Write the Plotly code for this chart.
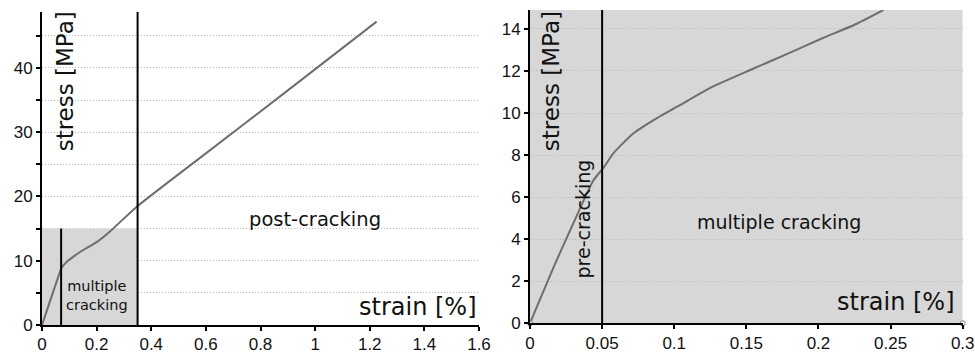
import plotly.graph_objects as go

# ---- data ----
strain_left = [0, 0.012, 0.03, 0.05, 0.062, 0.072, 0.09, 0.12, 0.16, 0.2, 0.25, 0.347, 0.6, 0.9, 1.225]
stress_left = [0, 1.5, 3.8, 6.3, 7.8, 8.9, 9.8, 10.8, 11.9, 12.9, 14.6, 18.4, 26.7, 36.5, 47.2]

strain_right = [0, 0.0185, 0.031, 0.044, 0.051, 0.058, 0.072, 0.088, 0.102, 0.125, 0.153, 0.178, 0.203, 0.225, 0.245]
stress_right = [0, 3.0, 4.9, 6.8, 7.4, 8.1, 9.05, 9.76, 10.3, 11.2, 12.06, 12.8, 13.57, 14.2, 14.9]

left_bounds = [0.07, 0.35]      # boundaries of regions (left chart)
left_region_top = 15            # top of shaded multiple-cracking zone
right_bound = 0.05              # pre-cracking boundary (right chart)

left_xrange = [0, 1.6]
left_yrange = [0, 48.7]
right_xrange = [0, 0.3]
right_yrange = [0, 14.9]

left_yticks = [0, 10, 20, 30, 40]
right_yticks = [0, 2, 4, 6, 8, 10, 12, 14]

CURVE = "#6e6e6e"
SHADE = "#d7d7d7"
GRID = "#b5b5b5"
DOT = "1px,2px"
LABEL_FONT = "DejaVu Sans"
TICK_FONT = dict(family="Liberation Sans", size=17, color="#111")

fig = go.Figure()

fig.add_trace(go.Scatter(x=strain_left, y=stress_left, mode="lines",
                         line=dict(color=CURVE, width=2, shape="spline", smoothing=0.5),
                         xaxis="x", yaxis="y", showlegend=False, hoverinfo="skip"))
fig.add_trace(go.Scatter(x=strain_right, y=stress_right, mode="lines",
                         line=dict(color=CURVE, width=2, shape="spline", smoothing=0.6),
                         xaxis="x2", yaxis="y2", showlegend=False, hoverinfo="skip"))
# small open circles at the ends of the right chart's strain axis
fig.add_trace(go.Scatter(x=right_xrange, y=[right_yrange[0], right_yrange[0]], mode="markers",
                         marker=dict(symbol="circle", size=5, color="white",
                                     line=dict(color="#777", width=1)),
                         xaxis="x2", yaxis="y2", showlegend=False, hoverinfo="skip",
                         cliponaxis=False))

# ---- shapes ----
shapes = []
shapes.append(dict(type="rect", xref="x", yref="y", x0=0, x1=left_bounds[1],
                   y0=0, y1=left_region_top, fillcolor=SHADE, line_width=0, layer="between"))
shapes.append(dict(type="line", xref="x", yref="y", x0=left_bounds[0], x1=left_bounds[0],
                   y0=0, y1=left_region_top, line=dict(color="black", width=2), layer="above"))
shapes.append(dict(type="line", xref="x", yref="y", x0=left_bounds[1], x1=left_bounds[1],
                   y0=0, y1=left_yrange[1], line=dict(color="black", width=2), layer="above"))
shapes.append(dict(type="rect", xref="x2", yref="y2", x0=right_xrange[0], x1=right_xrange[1],
                   y0=right_yrange[0], y1=right_yrange[1], fillcolor=SHADE, line_width=0, layer="below"))
shapes.append(dict(type="line", xref="x2", yref="y2", x0=right_bound, x1=right_bound,
                   y0=0, y1=right_yrange[1], line=dict(color="black", width=2), layer="above"))

annotations = [
    dict(text="stress [MPa]", xref="x", yref="y", x=0.084, y=37.9, textangle=-90,
         showarrow=False, font=dict(family=LABEL_FONT, size=23, color="#111")),
    dict(text="strain [%]", xref="x", yref="y", x=1.6, y=2.8, xanchor="right",
         showarrow=False, font=dict(family=LABEL_FONT, size=24, color="#111")),
    dict(text="post-cracking", xref="x", yref="y", x=1.0, y=16.4,
         showarrow=False, font=dict(family=LABEL_FONT, size=19.5, color="#111")),
    dict(text="multiple<br>cracking", xref="x", yref="y", x=0.2025, y=4.6,
         showarrow=False, font=dict(family=LABEL_FONT, size=14.5, color="#111")),
    dict(text="stress [MPa]", xref="x2", yref="y2", x=0.015, y=11.5, textangle=-90,
         showarrow=False, font=dict(family=LABEL_FONT, size=23, color="#111")),
    dict(text="strain [%]", xref="x2", yref="y2", x=0.296, y=1.03, xanchor="right",
         showarrow=False, font=dict(family=LABEL_FONT, size=24, color="#111")),
    dict(text="pre-cracking", xref="x2", yref="y2", x=0.0365, y=4.97, textangle=-90,
         showarrow=False, font=dict(family=LABEL_FONT, size=19, color="#111")),
    dict(text="multiple cracking", xref="x2", yref="y2", x=0.1726, y=4.84,
         showarrow=False, font=dict(family=LABEL_FONT, size=19, color="#111")),
]

axis_common = dict(showline=True, linecolor="black", linewidth=2, zeroline=False,
                   ticks="outside", ticklen=4, tickwidth=2, tickcolor="black",
                   tickfont=TICK_FONT, automargin=False, fixedrange=True)

W, H = 975, 353
fig.update_layout(
    width=W, height=H,
    margin=dict(l=0, r=0, t=0, b=0),
    paper_bgcolor="white", plot_bgcolor="rgba(0,0,0,0)",
    showlegend=False,
    shapes=shapes, annotations=annotations,
    xaxis=dict(axis_common, domain=[42 / W, 479 / W], range=left_xrange, dtick=0.2,
               showgrid=False, anchor="y", ticklabelstandoff=-1),
    yaxis=dict(axis_common, domain=[(H - 325) / H, (H - 12) / H], range=left_yrange,
               tickvals=left_yticks, showgrid=True, gridcolor=GRID, griddash=DOT, gridwidth=1,
               minor=dict(dtick=5, ticks="outside", ticklen=4, tickwidth=2, tickcolor="black",
                          showgrid=True, gridcolor=GRID, griddash=DOT, gridwidth=1),
               anchor="x"),
    xaxis2=dict(axis_common, domain=[530 / W, 962.7 / W], range=right_xrange, dtick=0.05,
                showgrid=False, anchor="y2", ticklabelstandoff=-1),
    yaxis2=dict(axis_common, domain=[(H - 323.3) / H, (H - 10) / H], range=right_yrange,
                tickvals=right_yticks, showgrid=True, gridcolor=GRID, griddash=DOT, gridwidth=1,
                anchor="x2"),
)

fig.write_html("out.html", config={"displayModeBar": False})

# remove default page margin so the figure sits at the window's top-left corner
with open("out.html", "r", encoding="utf-8") as f:
    html = f.read()
html = html.replace("<head>", "<head><style>html,body{margin:0;padding:0;overflow:hidden;}</style>", 1)
with open("out.html", "w", encoding="utf-8") as f:
    f.write(html)
